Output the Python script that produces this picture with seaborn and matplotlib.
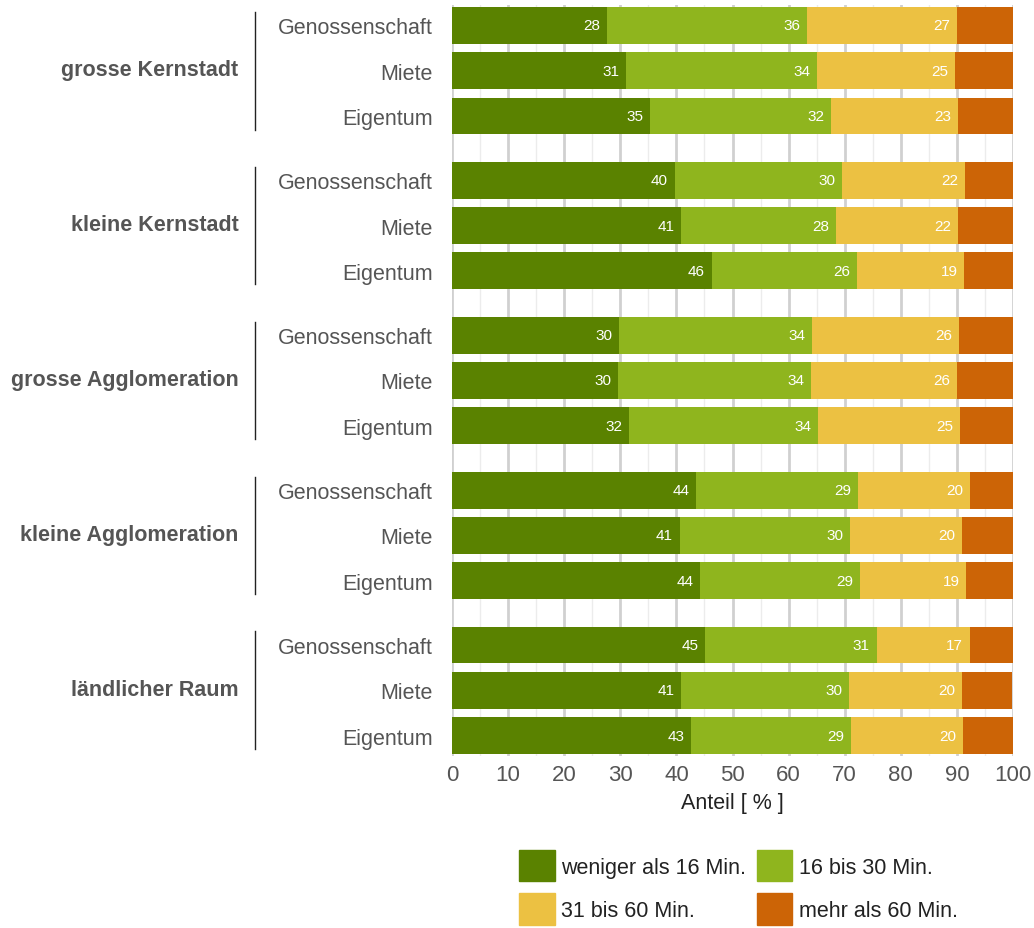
import pandas as pd
import seaborn as sns
import matplotlib.pyplot as plt
from matplotlib.patches import Patch
from matplotlib.transforms import blended_transform_factory

# data (percent per travel-time class)
groups = ['grosse Kernstadt', 'kleine Kernstadt', 'grosse Agglomeration',
          'kleine Agglomeration', 'ländlicher Raum']
types = ['Genossenschaft', 'Miete', 'Eigentum']
classes = ['weniger als 16 Min.', '16 bis 30 Min.', '31 bis 60 Min.', 'mehr als 60 Min.']
colors = ['#5a8200', '#8fb51e', '#ecc142', '#cc6406']

less16 = [27.6, 31.0, 35.3, 39.7, 40.8, 46.3, 29.8, 29.6, 31.6, 43.5, 40.6, 44.2, 45.1, 40.9, 42.6]
b16_30 = [35.7, 34.1, 32.3, 29.8, 27.6, 25.9, 34.4, 34.4, 33.6, 28.9, 30.3, 28.6, 30.6, 29.9, 28.6]
b31_60 = [26.7, 24.6, 22.6, 21.9, 21.8, 19.1, 26.2, 26.0, 25.4, 19.9, 20.0, 18.9, 16.6, 20.1, 19.9]
over60 = [10.0, 10.3, 9.8, 8.6, 9.8, 8.7, 9.6, 10.0, 9.4, 7.7, 9.1, 8.3, 7.7, 8.9, 8.9]

gap = 0.42
rows = []
for g, grp in enumerate(groups):
    for t, typ in enumerate(types):
        i = g * 3 + t
        rows.append({'group': grp, 'type': typ, 'pos': i + g * gap,
                     's1': less16[i], 's2': b16_30[i], 's3': b31_60[i], 's4': over60[i]})
df = pd.DataFrame(rows)
df['c1'] = df['s1']
df['c2'] = df['c1'] + df['s2']
df['c3'] = df['c2'] + df['s3']
df['c4'] = df['c3'] + df['s4']

plt.rcParams['font.family'] = ['Liberation Sans', 'DejaVu Sans']
fig = plt.figure(figsize=(10.34, 9.29), dpi=100)
ax = fig.add_axes([452 / 1034, 1 - 757 / 929, 561 / 1034, 751 / 929])

for col, c in zip(['c4', 'c3', 'c2', 'c1'], colors[::-1]):
    sns.barplot(data=df, x=col, y='pos', orient='h', native_scale=True, color=c,
                saturation=1, width=0.815, errorbar=None, linewidth=0, ax=ax)

for _, r in df.iterrows():
    for seg, cum in [('s1', 'c1'), ('s2', 'c2'), ('s3', 'c3')]:
        ax.text(r[cum] - 1.2, r['pos'], f"{r[seg]:.0f}", ha='right', va='center',
                color='white', fontsize=11)

ax.set_xlim(0, 100)
ax.set_ylim(df['pos'].max() + 0.45, -0.45)
ax.set_xticks(range(0, 101, 10))
ax.set_xticks(range(5, 100, 10), minor=True)
ax.grid(axis='x', which='major', color='#d0d0d0', linewidth=2)
ax.grid(axis='x', which='minor', color='#ececec', linewidth=1)
ax.grid(axis='y', visible=False)
ax.set_axisbelow(True)
for s in ax.spines.values():
    s.set_visible(False)

ax.set_yticks(df['pos'], df['type'])
ax.tick_params(axis='y', length=0, pad=14, labelsize=15.5, labelcolor='#555555')
ax.tick_params(axis='x', which='both', length=0, pad=6, labelsize=16, labelcolor='#555555')
ax.set_xlabel('Anteil [ % ]', fontsize=15.5, color='#222222', labelpad=5)
ax.set_ylabel('')

trans = blended_transform_factory(ax.transAxes, ax.transData)
for grp, sub in df.groupby('group', sort=False):
    top, bot = sub['pos'].min(), sub['pos'].max()
    ax.plot([-0.351, -0.351], [top - 0.3, bot + 0.3], color='#222222', linewidth=1,
            transform=trans, clip_on=False)
    ax.text(-0.381, (top + bot) / 2 - 0.02, grp, transform=trans, ha='right', va='center',
            fontsize=15.5, fontweight='bold', color='#555555')

handles = [Patch(color=c) for c in colors]
order = [0, 2, 1, 3]
fig.legend([handles[k] for k in order], [classes[k] for k in order], ncol=2,
           loc='upper left', bbox_to_anchor=(519 / 1034, 1 - 851 / 929), frameon=False,
           fontsize=15.5, handlelength=1.65, handleheight=1.87, handletextpad=0.3,
           columnspacing=0.5, labelspacing=0.55, borderpad=0, borderaxespad=0,
           labelcolor='#222222')

fig.savefig('out.png', dpi=100)
